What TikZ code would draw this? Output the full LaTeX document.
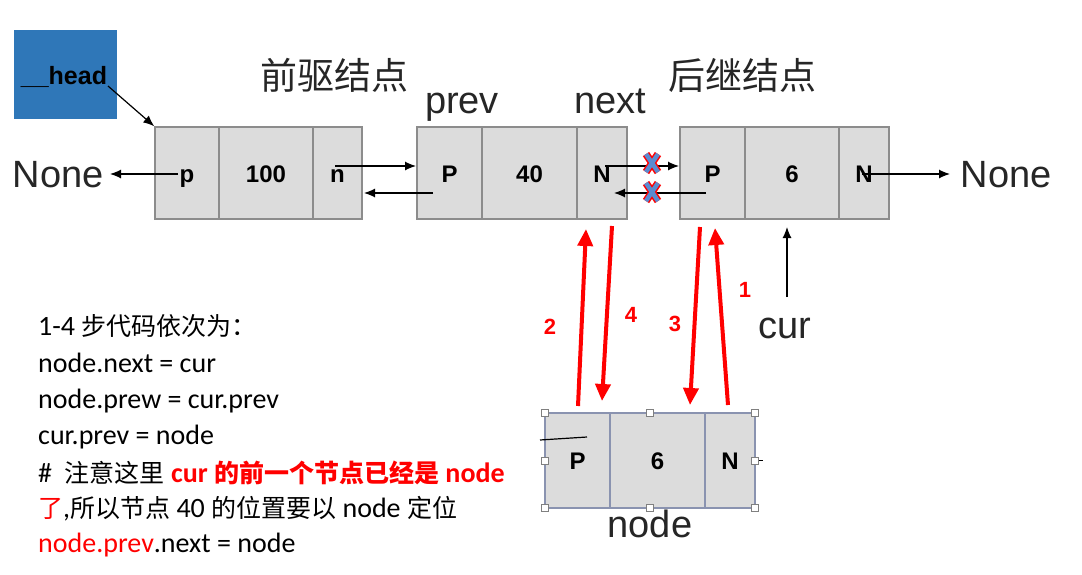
\documentclass[tikz,border=0pt]{standalone}
\usepackage{fontspec}
\setmainfont{Liberation Sans}
\newfontfamily\cjk{Noto Sans CJK SC}
\newfontfamily\carl{Carlito}
\newfontfamily\cjktxt{Noto Sans CJK SC}
\usetikzlibrary{arrows.meta}
\definecolor{cellfill}{HTML}{DCDCDC}
\definecolor{cellline}{HTML}{8C8C8C}
\definecolor{headblue}{HTML}{2F77B8}
\definecolor{xblue}{HTML}{5B8BD0}
\definecolor{selline}{HTML}{8A93B0}
\definecolor{txtgray}{HTML}{262626}
\newcommand{\zh}[1]{{\cjktxt\fontsize{25}{25}\selectfont #1}}
\newcommand{\zhb}[1]{{\cjktxt\fontsize{25}{25}\selectfont\bfseries #1}}
\begin{document}
\begin{tikzpicture}[x=1pt,y=-1pt,
  cell/.style={draw=cellline, fill=cellfill, line width=1.5pt, minimum height=92pt, inner sep=0pt, text height=18pt, text depth=0pt, font=\fontsize{24}{24}\selectfont\bfseries},
  selcell/.style={cell, draw=selline, line width=1.2pt, minimum height=95pt},
  handle/.style={draw=gray, fill=white, line width=0.6pt, minimum size=7pt, inner sep=0pt},
  big/.style={font=\fontsize{38}{38}\selectfont, text=txtgray, inner sep=0pt},
  bigcjk/.style={font=\cjk\fontsize{37}{37}\selectfont, text=txtgray, inner sep=0pt},
  ptr/.style={-{Latex[length=11pt,width=9pt]}, line width=1.2pt, black},
  redarr/.style={-{Triangle[length=17pt,width=15pt]}, line width=4pt, red},
  redlbl/.style={font=\fontsize{22}{22}\selectfont\bfseries, text=red, inner sep=0pt},
  code/.style={anchor=base west, inner sep=0pt, font=\carl\fontsize{28}{28}\selectfont},
  xmark/.pic={
    \draw[red, line width=7.5pt] (-6,-9) -- (6,9) (6,-9) -- (-6,9);
    \draw[xblue, line width=4.5pt] (-6,-9) -- (6,9) (6,-9) -- (-6,9);
  }]
\useasboundingbox (0,0) rectangle (1082,574);
\fill[white] (0,0) rectangle (1082,574);

% head box
\node[fill=headblue, minimum width=103pt, minimum height=89pt, inner sep=0pt] (head) at (65.5,74.5) {};
\node[font=\fontsize{25}{25}\selectfont\bfseries, inner sep=0pt, anchor=base] (headtxt) at (64,84) {\_\_head};

% titles
\node[bigcjk] (t1) at (334,75) {前驱结点};
\node[bigcjk] (t2) at (742,75) {后继结点};
\node[big, anchor=base] (prev) at (462,113) {prev};
\node[big, anchor=base] (next) at (610,113) {next};

% box 1
\node[cell, minimum width=64pt] (ap) at (187,173) {p};
\node[cell, minimum width=94pt] (av) at (266,173) {100};
\node[cell, minimum width=49pt] (an) at (337.5,173) {n};
% box 2
\node[cell, minimum width=65pt] (bp) at (449.5,173) {P};
\node[cell, minimum width=95pt] (bv) at (529.5,173) {40};
\node[cell, minimum width=50pt] (bn) at (602,173) {N};
% box 3
\node[cell, minimum width=65pt] (cp) at (712.5,173) {P};
\node[cell, minimum width=94pt] (cv) at (792,173) {6};
\node[cell, minimum width=50pt] (cn) at (864,173) {N};

% None labels
\node[big, anchor=base] (noneL) at (58,187) {None};
\node[big, anchor=base] (noneR) at (1006,187) {None};

% head pointer
\coordinate (hs) at (108,86);
\draw[ptr] (hs) -- (ap.north west);

% None pointers
\coordinate (apc) at (178,174);
\coordinate (nLt) at (110,174);
\draw[ptr] (apc) -- (nLt);
\coordinate (cnc) at (862,174);
\coordinate (nRt) at (950,174);
\draw[ptr] (cnc) -- (nRt);

% links box1 <-> box2
\coordinate (a1) at (335,166);
\coordinate (b1) at (416,166);
\draw[ptr] (a1) -- (b1);
\coordinate (b2) at (433,193);
\coordinate (a2) at (364,193);
\draw[ptr] (b2) -- (a2);

% links box2 <-> box3 (broken)
\coordinate (b3) at (605,166);
\coordinate (c3) at (679,166);
\draw[ptr] (b3) -- (c3);
\coordinate (c4) at (706,193);
\coordinate (b4) at (614,193);
\draw[ptr] (c4) -- (b4);
\pic at (652,163) {xmark};
\pic at (652,192) {xmark};

% cur
\node[big, anchor=base] (cur) at (785,338) {cur};
\coordinate (curs) at (787,297);
\coordinate (curt) at (787,227);
\draw[ptr] (curs) -- (curt);

% new node
\node[selcell, minimum width=65pt] (np) at (577.5,460.5) {P};
\node[selcell, minimum width=95pt] (nv) at (657.5,460.5) {6};
\node[selcell, minimum width=50pt] (nn) at (730,460.5) {N};
\node[big, anchor=base] (nodelbl) at (650,537) {node};
\coordinate (ln1) at (540,440);
\coordinate (ln2) at (587,437);
\draw[black, line width=1.2pt] (ln1) -- (ln2);
\coordinate (tk1) at (758,460);
\coordinate (tk2) at (763,460);
\draw[black, line width=1pt] (tk1) -- (tk2);
\foreach \hx/\hy in {545/413, 650/413, 755/413, 545/460.5, 755/460.5, 545/508, 650/508, 755/508}
  \node[handle] at (\hx,\hy) {};

% red arrows
\coordinate (r2s) at (578,406);
\coordinate (r2t) at (586,229);
\draw[redarr] (r2s) -- (r2t);
\coordinate (r4s) at (612,226);
\coordinate (r4t) at (602,401);
\draw[redarr] (r4s) -- (r4t);
\coordinate (r3s) at (700,227);
\coordinate (r3t) at (690,405);
\draw[redarr] (r3s) -- (r3t);
\coordinate (r1s) at (728,405);
\coordinate (r1t) at (715,228);
\draw[redarr] (r1s) -- (r1t);
\node[redlbl] (l2) at (550,327) {2};
\node[redlbl] (l4) at (631,315) {4};
\node[redlbl] (l3) at (675,324) {3};
\node[redlbl] (l1) at (745,290) {1};

% code text
\node[code] (c1) at (38,335) {1-4 \zh{步代码依次为：}};
\node[code] (c2) at (38,372) {node.next = cur};
\node[code] (c3) at (38,408) {node.prew = cur.prev};
\node[code] (c4) at (38,444) {cur.prev = node};
\node[code] (c5) at (38,482) {\# \ \zh{注意这里} \textcolor{red}{\bfseries cur \zhb{的前一个节点已经是} node}};
\node[code] (c6) at (38,517) {\textcolor{red}{\zh{了}},\zh{所以节点} 40 \zh{的位置要以} node \zh{定位}};
\node[code] (c7) at (38,552) {\textcolor{red}{node.prev}.next = node};
\end{tikzpicture}
\end{document}
